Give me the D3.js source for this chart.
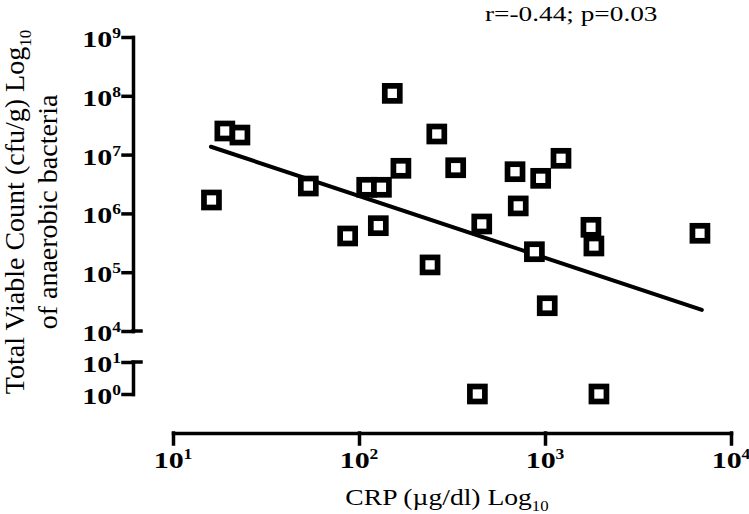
<!DOCTYPE html>
<html><head><meta charset="utf-8">
<script src="https://cdn.jsdelivr.net/npm/d3@7"></script>
<style>body{margin:0;background:#fff}svg{display:block}</style>
</head><body><svg id="c" width="749" height="514"></svg>
<script>
// ---- data ----
const crp = [16.1, 19.0, 22.9, 53.4, 86.9, 110, 132, 127, 151, 168, 241, 262, 331, 457, 433, 690, 718, 877, 948, 1028, 1219, 1766, 1832, 1950, 6808];
const tvc = [1.69e6, 2.52e7, 2.15e7, 2.92e6, 4.13e5, 2.78e6, 2.78e6, 6.18e5, 1.10e8, 5.85e6, 1.33e5, 2.24e7, 5.98e6, 6.61e5, 1, 5.12e6, 1.34e6, 2.23e5, 3.95e6, 2.69e4, 8.65e6, 5.80e5, 2.79e5, 1, 4.59e5];
const fitX = [16.0, 6970];
const fitY = [1.36e7, 2.28e4];
const xTickVals = [1e1, 1e2, 1e3, 1e4];
const xTickExp = ["1", "2", "3", "4"];
const yUpperVals = [1e4, 1e5, 1e6, 1e7, 1e8, 1e9];
const yUpperExp = ["4", "5", "6", "7", "8", "9"];
const yLowerVals = [1, 10];
const yLowerExp = ["0", "1"];
const annotation = "r=-0.44; p=0.03";
const xTitle = "CRP (\u00B5g/dl) Log";
const yTitle1 = "Total Viable Count (cfu/g) Log";
const yTitle2 = "of anaerobic bacteria";
const logSub = "10";

// ---- layout ----
const svg = d3.select("#c");
const serif = "'Liberation Serif','Times New Roman',serif";
const x = d3.scaleLog().domain([10, 1e4]).range([173, 731]);
const yU = d3.scaleLog().domain([1e4, 1e9]).range([331, 37]);
const yL = d3.scaleLog().domain([1, 10]).range([394, 362]);
const y = v => v >= 1e4 ? yU(v) : yL(v);
const axX = 133, axY = 433;
const AW = 3.5;

const gyU = svg.append("g").attr("transform", `translate(${axX},0)`)
  .call(d3.axisLeft(yU).tickValues(yUpperVals).tickSize(10).tickSizeOuter(0).tickFormat(""));
const gyL = svg.append("g").attr("transform", `translate(${axX},0)`)
  .call(d3.axisLeft(yL).tickValues(yLowerVals).tickSize(10).tickSizeOuter(0).tickFormat(""));
const gx = svg.append("g").attr("transform", `translate(0,${axY})`)
  .call(d3.axisBottom(x).tickValues(xTickVals).tickSize(11).tickSizeOuter(0).tickFormat(""));
[gyU, gyL, gx].forEach(g => {
  g.selectAll("path.domain").attr("stroke", "#000").attr("stroke-width", AW).attr("stroke-linecap", "square");
  g.selectAll(".tick line").attr("stroke", "#000").attr("stroke-width", AW).attr("stroke-linecap", "square");
});
// axis-break caps extending to the right
[yU(1e4), yL(10)].forEach(yy => {
  svg.append("line").attr("x1", axX).attr("x2", axX + 8).attr("y1", yy).attr("y2", yy)
    .attr("stroke", "#000").attr("stroke-width", AW).attr("stroke-linecap", "square");
});

function yLabels(vals, exps, scale) {
  vals.forEach((v, i) => {
    const t = svg.append("text")
      .attr("transform", `translate(121,${scale(v) + 10}) scale(1.25,1)`)
      .attr("text-anchor", "end").attr("font-family", serif).attr("font-weight", "bold")
      .attr("font-size", 24).attr("fill", "#000");
    t.append("tspan").text("10");
    t.append("tspan").attr("font-size", 14).attr("dy", -9).text(exps[i]);
  });
}
yLabels(yUpperVals, yUpperExp, yU);
yLabels(yLowerVals, yLowerExp, yL);

xTickVals.forEach((v, i) => {
  const t = svg.append("text")
    .attr("transform", `translate(${x(v)},468) scale(1.25,1)`)
    .attr("text-anchor", "middle").attr("font-family", serif).attr("font-weight", "bold")
    .attr("font-size", 24).attr("fill", "#000");
  t.append("tspan").text("10");
  t.append("tspan").attr("font-size", 14).attr("dy", -9).text(xTickExp[i]);
});

const xt = svg.append("text")
  .attr("transform", `translate(447,505) scale(1.2,1)`)
  .attr("text-anchor", "middle").attr("font-family", serif).attr("font-size", 23).attr("fill", "#000");
xt.append("tspan").text(xTitle);
xt.append("tspan").attr("font-size", 14).attr("dy", 6).text(logSub);

const yt1 = svg.append("text")
  .attr("transform", `translate(24,212) rotate(-90)`)
  .attr("text-anchor", "middle").attr("font-family", serif).attr("font-size", 28).attr("fill", "#000");
yt1.append("tspan").text(yTitle1);
yt1.append("tspan").attr("font-size", 17).attr("dy", 7).text(logSub);
svg.append("text")
  .attr("transform", `translate(57,212) rotate(-90)`)
  .attr("text-anchor", "middle").attr("font-family", serif).attr("font-size", 28).attr("fill", "#000")
  .text(yTitle2);

svg.append("text")
  .attr("transform", `translate(485,21) scale(1.3,1)`)
  .attr("font-family", serif).attr("font-size", 21).attr("fill", "#000")
  .text(annotation);

svg.append("path")
  .datum(fitX.map((d, i) => [d, fitY[i]]))
  .attr("d", d3.line().x(d => x(d[0])).y(d => y(d[1])))
  .attr("stroke", "#000").attr("stroke-width", 4).attr("fill", "none").attr("stroke-linecap", "round");

const pts = crp.map((d, i) => ({ x: d, y: tvc[i] }));
svg.append("g").selectAll("rect").data(pts).join("rect")
  .attr("x", d => x(d.x) - 7.5).attr("y", d => y(d.y) - 7.5)
  .attr("width", 15).attr("height", 15)
  .attr("fill", "#fff").attr("stroke", "#000").attr("stroke-width", 5.7);
</script></body></html>
